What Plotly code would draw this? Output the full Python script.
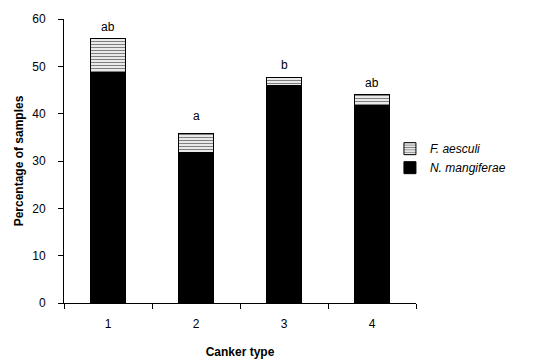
import plotly.graph_objects as go

categories = ["1", "2", "3", "4"]
n_mangiferae = [48.8, 31.9, 46.0, 41.8]
f_aesculi = [7.0, 4.0, 1.6, 2.3]
letters = ["ab", "a", "b", "ab"]
letter_shift = [12, 17, 13, 11]

FONT = "Liberation Sans, Arial, sans-serif"

fig = go.Figure()
fig.add_trace(go.Bar(
    x=categories, y=n_mangiferae, name="<i>N. mangiferae</i>",
    marker=dict(color="black", line=dict(color="black", width=1)),
))
fig.add_trace(go.Bar(
    x=categories, y=f_aesculi, name="<i>F. aesculi</i>",
    marker=dict(color="white", line=dict(color="black", width=1),
                pattern=dict(shape="-", fgcolor="black", bgcolor="white",
                             size=3, solidity=0.45)),
))

totals = [a + b for a, b in zip(n_mangiferae, f_aesculi)]
for i, (t, l, s) in enumerate(zip(totals, letters, letter_shift)):
    fig.add_annotation(x=i, y=t, text=l, showarrow=False, yshift=s,
                       font=dict(family=FONT, size=12, color="black"))

fig.update_layout(
    width=536, height=352,
    margin=dict(l=56, r=128, t=11, b=57),
    barmode="stack", bargap=0.6,
    plot_bgcolor="white", paper_bgcolor="white",
    font=dict(family=FONT, size=12, color="black"),
    showlegend=True,
    legend=dict(x=0.926, y=0.51, xanchor="left", yanchor="middle",
                traceorder="reversed", font=dict(size=12),
                itemwidth=30, tracegroupgap=0, bgcolor="rgba(0,0,0,0)"),
    xaxis=dict(
        type="category", automargin=False, range=[-0.5, 3.5],
        title=dict(text="<b>Canker type</b>", font=dict(size=12), standoff=17),
        showline=True, linecolor="black", linewidth=1,
        ticks="outside", ticklen=5, tickcolor="black", tickson="boundaries",
        ticklabelstandoff=10,
        showgrid=False, zeroline=False,
    ),
    yaxis=dict(
        automargin=False,
        title=dict(text="<b>Percentage of samples</b>", font=dict(size=12), standoff=6),
        range=[0, 60], dtick=10,
        showline=True, linecolor="black", linewidth=1,
        ticks="outside", ticklen=5, tickcolor="black",
        ticklabelstandoff=10,
        showgrid=False, zeroline=False,
    ),
)

fig.write_html("out.html")
